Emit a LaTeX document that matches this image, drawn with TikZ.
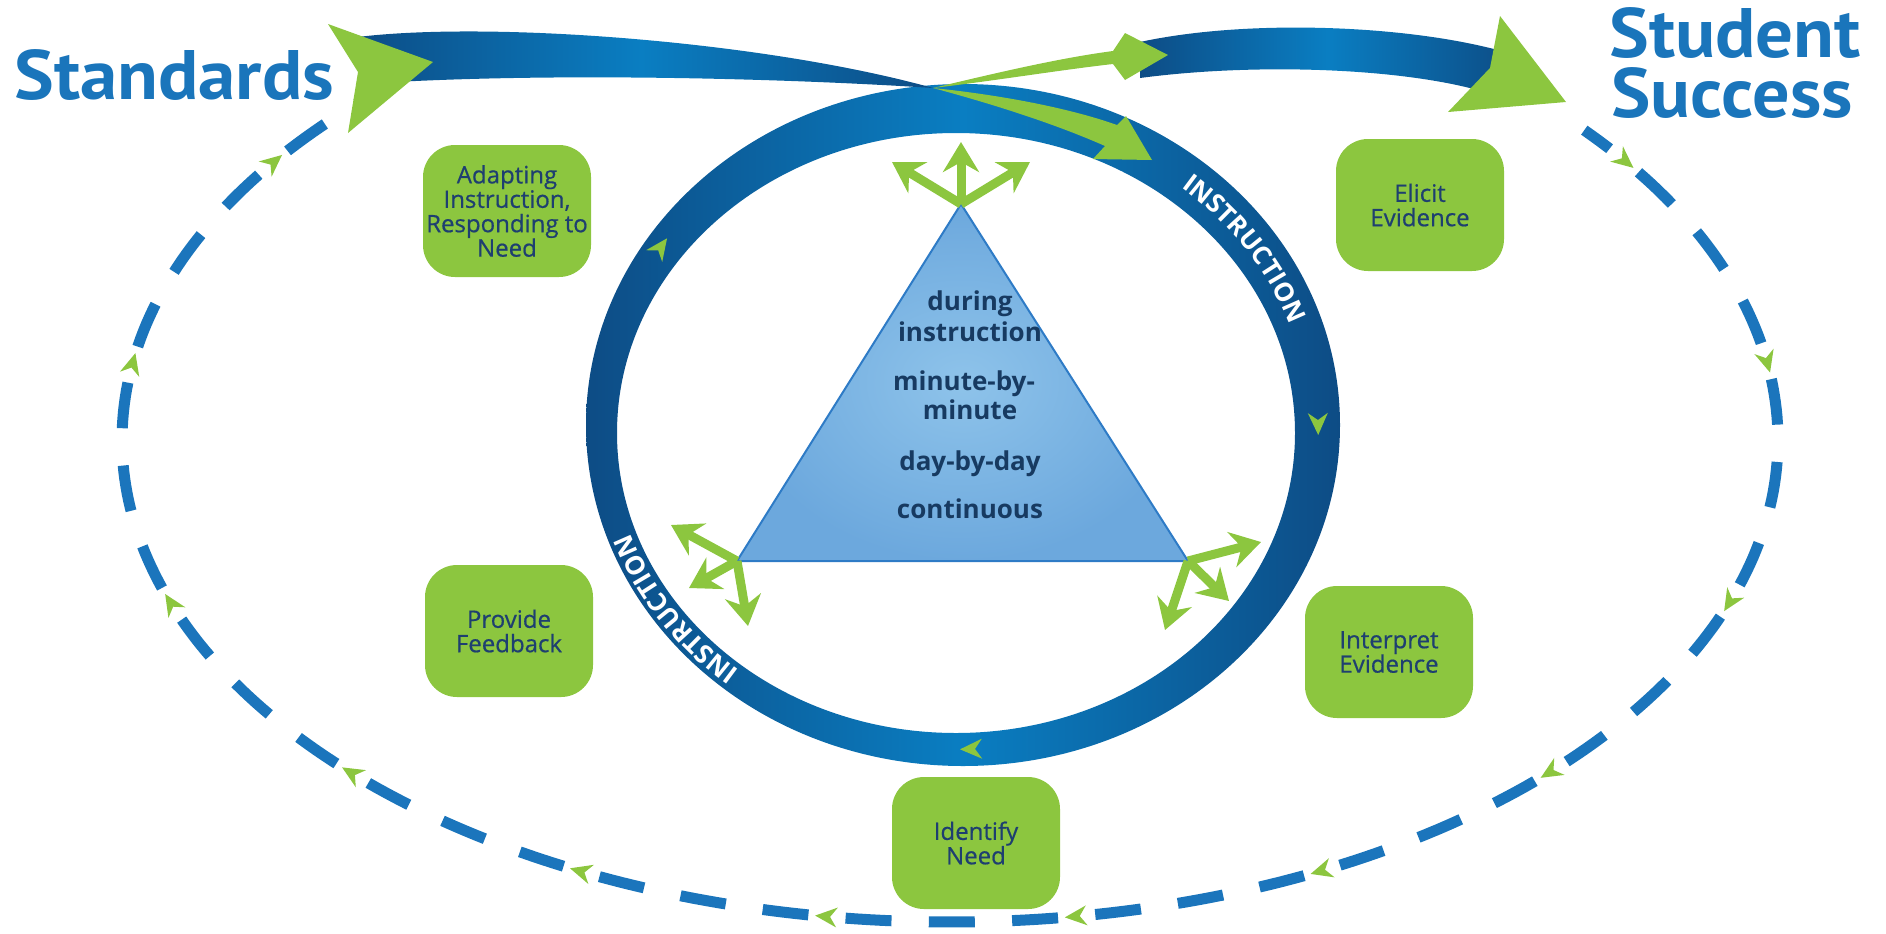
\documentclass[tikz,border=0pt]{standalone}
\usepackage{fontspec}
\setmainfont{Open Sans}
\newfontfamily\titlefont{PT Sans}
\newfontfamily\boxfont{Open Sans}[FakeBold=0.6]
\usetikzlibrary{arrows.meta,decorations.markings,decorations.text}
\definecolor{leaf}{HTML}{8CC63F}
\definecolor{boxnavy}{HTML}{1E3F70}
\definecolor{trinavy}{HTML}{173A61}
\definecolor{tblue}{HTML}{1A75BB}
\definecolor{dashblue}{HTML}{1B75BC}
\definecolor{ringdark}{HTML}{0D4C85}
\definecolor{ringlight}{HTML}{0A7EC2}
\definecolor{trilight}{HTML}{8EC3EA}
\definecolor{trimid}{HTML}{6CA8DD}
\definecolor{triedge}{HTML}{2E7BC6}
\begin{document}
\begin{tikzpicture}[x=0.5pt,y=-0.5pt,
  leafbox/.style={rounded corners=16pt, fill=leaf, minimum width=84pt, minimum height=66pt, align=center, text=boxnavy, font=\boxfont\fontsize{12}{12.2}\selectfont, inner sep=1pt},
  tritext/.style={anchor=base, text=trinavy, font=\bfseries\fontsize{13}{15}\selectfont, inner sep=0pt},
  titletext/.style={anchor=base west, text=tblue, font=\titlefont\bfseries\fontsize{35}{35}\selectfont, inner sep=0pt},
  burst/.style={draw=leaf, line width=4.5pt, -{Stealth[length=15pt,width=18pt,inset=5pt]}},
  dashloop/.style={draw=dashblue, line width=5.5pt, dash pattern=on 23pt off 18.67pt, dash phase=7.33pt},
  bandshade/.style={left color=ringdark, right color=ringdark, middle color=ringlight},
  leafhead/.pic={\fill[leaf] (6pt,0pt) -- (-5pt,5pt) -- (-1.5pt,0pt) -- (-5pt,-5pt) -- cycle;}
]
\useasboundingbox (0,0) rectangle (1886,933);

% outer dashed loop with small arrowheads
\draw[dashloop, postaction={decorate, decoration={markings, mark=between positions 25pt and 1450pt step 125pt with {\fill[leaf, solid] (6pt,0pt) -- (-5pt,5pt) -- (-1.5pt,0pt) -- (-5pt,-5pt) -- cycle;}}}]
  plot[domain=-40:225, samples=300, variable=\t] ({950+828*cos(\t)},{440+482*sin(\t)});

% instruction ring
\shade[bandshade, even odd rule] (963,425) ellipse [x radius=188.5pt, y radius=170.5pt] (956,433) ellipse [x radius=169.5pt, y radius=150pt];

% big arcs
\shade[bandshade] (350,38) .. controls (480,20) and (760,40) .. (933,88) .. controls (780,78) and (540,72) .. (362,84) -- cycle;
\shade[bandshade] (1140,42) .. controls (1250,18) and (1420,25) .. (1515,55) -- (1500,97) .. controls (1420,68) and (1260,62) .. (1140,78) -- cycle;

% green arrowheads and wedges
\fill[leaf] (328,24) -- (433,62) -- (348,133) -- (358,72) -- cycle;
\fill[leaf] (1500,16) -- (1566,102) -- (1448,112) -- (1490,68) -- cycle;
\fill[leaf] (933,88) .. controls (1000,72) and (1060,58) .. (1113,51) -- (1125,33) -- (1168,55) -- (1125,80) -- (1113,64) .. controls (1060,70) and (1000,80) .. (933,88) -- cycle;
\fill[leaf] (933,88) .. controls (1010,96) and (1075,110) .. (1117,125) -- (1126,116) -- (1152,160) -- (1093,159) -- (1105,146) .. controls (1060,126) and (1000,106) .. (933,88) -- cycle;

% ring arrowheads
\pic[rotate=54] at (660,248) {leafhead};
\pic[rotate=-89] at (1318,423) {leafhead};
\pic[rotate=181.5] at (972,749) {leafhead};

% ring labels
\path[decorate, decoration={text along path, text align=center, text={|\color{white}\bfseries\fontsize{13}{13}\selectfont|INSTRUCTION}}]
  (960,429) ++(56:175pt and 156pt) arc[start angle=56, end angle=14, x radius=175pt, y radius=156pt];
\path[decorate, decoration={text along path, text align=center, text={|\color{white}\bfseries\fontsize{13}{13}\selectfont|INSTRUCTION}}]
  (960,429) ++(-124:175pt and 156pt) arc[start angle=-124, end angle=-166, x radius=175pt, y radius=156pt];

% triangle
\coordinate (tA) at (961,204);
\coordinate (tB) at (737,561);
\coordinate (tC) at (1188,561);
\shade[inner color=trilight, outer color=trimid] (tA) -- (tB) -- (tC) -- cycle;
\draw[triedge, line width=1pt] (tA) -- (tB) -- (tC) -- cycle;

% bursts
\coordinate (a1) at (961,142);
\coordinate (a2) at (892,162);
\coordinate (a3) at (1030,162);
\coordinate (b1) at (671,525);
\coordinate (b2) at (689,588);
\coordinate (b3) at (748,626);
\coordinate (c1) at (1261,542);
\coordinate (c2) at (1229,601);
\coordinate (c3) at (1165,630);
\draw[burst] (tA) -- (a1);
\draw[burst] (tA) -- (a2);
\draw[burst] (tA) -- (a3);
\draw[burst] (tB) -- (b1);
\draw[burst] (tB) -- (b2);
\draw[burst] (tB) -- (b3);
\draw[burst] (tC) -- (c1);
\draw[burst] (tC) -- (c2);
\draw[burst] (tC) -- (c3);

% triangle text
\node[tritext] (w1) at (970,310) {during};
\node[tritext] (w2) at (970,341) {instruction};
\node[tritext] (w3) at (964,390) {minute-by-};
\node[tritext] (w4) at (970,419) {minute};
\node[tritext] (w5) at (970,470) {day-by-day};
\node[tritext] (w6) at (970,518) {continuous};

% boxes
\node[leafbox] (adapt) at (507,211) {Adapting\\Instruction,\\Responding to\\Need};
\node[leafbox] (elicit) at (1420,205) {Elicit\\Evidence};
\node[leafbox] (feedback) at (509,631) {Provide\\Feedback};
\node[leafbox] (interp) at (1389,652) {Interpret\\Evidence};
\node[leafbox] (ident) at (976,843) {Identify\\Need};

% titles
\node[titletext] (std) at (14,99) {\scalebox{1.07}[1]{Standards}};
\node[titletext] (stu) at (1609,57) {\scalebox{1.07}[1]{Student}};
\node[titletext] (suc) at (1611,117) {\scalebox{1.06}[1]{Success}};
\end{tikzpicture}
\end{document}
